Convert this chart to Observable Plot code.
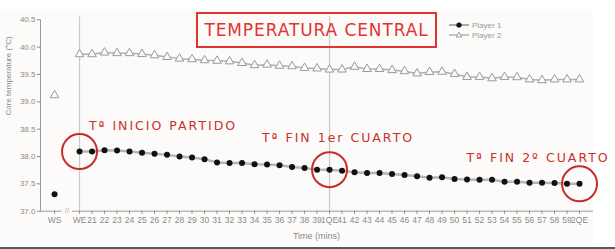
<!DOCTYPE html>
<html>
<head>
<meta charset="utf-8">
<script src="https://cdn.jsdelivr.net/npm/d3@7"></script>
<script src="https://cdn.jsdelivr.net/npm/@observablehq/plot@0.6"></script>
<style>
  html, body { margin: 0; padding: 0; background: #fff; }
  #wrap { position: relative; width: 615px; height: 249px; overflow: hidden; background: #fff; }
  #panel { position: absolute; left: 0; top: 10px; width: 593px; height: 233px; background: #fcfbf9; }
  #bottomline { position: absolute; left: 0; top: 247px; width: 615px; height: 2px; background: #5a5a5a; }
  #chart { position: absolute; left: 0; top: 0; }
  #title { position: absolute; left: 196px; top: 12px; width: 241px; height: 36px; box-sizing: border-box;
           border: 2.2px solid #e2342f; color: #e2342f; font-family: "DejaVu Sans", sans-serif; font-size: 17px;
           display: flex; align-items: center; justify-content: center; letter-spacing: 0.9px; }
  #legend { position: absolute; left: 449px; top: 20px; font-family: "Liberation Sans", Arial, sans-serif; font-size: 8px; color: #999; }
  #legend .row { display: flex; align-items: center; height: 10px; }
  #legend svg { margin-right: 3px; }
</style>
</head>
<body>
<div id="wrap">
  <div id="panel"></div>
  <div id="chart"></div>
  <div id="title">TEMPERATURA CENTRAL</div>
  <div id="legend"></div>
  <div id="bottomline"></div>
</div>
<script>
// ---- data ----
const categories = ["WS","WE","21","22","23","24","25","26","27","28","29","30","31","32","33","34","35","36","37","38","39","1QE",
  "41","42","43","44","45","46","47","48","49","50","51","52","53","54","55","56","57","58","59","2QE"];
const player1 = [37.31, 38.09, 38.09, 38.115, 38.11, 38.09, 38.07, 38.05, 38.03, 38.00, 37.98, 37.95, 37.89, 37.88, 37.88, 37.86, 37.855, 37.84, 37.81, 37.79, 37.76, 37.76,
  37.74, 37.71, 37.70, 37.70, 37.68, 37.66, 37.64, 37.61, 37.62, 37.59, 37.58, 37.575, 37.575, 37.54, 37.54, 37.52, 37.52, 37.515, 37.50, 37.50];
const player2 = [39.12, 39.87, 39.87, 39.90, 39.89, 39.89, 39.875, 39.85, 39.82, 39.79, 39.78, 39.76, 39.75, 39.74, 39.71, 39.67, 39.68, 39.66, 39.65, 39.62, 39.61, 39.59,
  39.59, 39.64, 39.60, 39.60, 39.58, 39.56, 39.52, 39.545, 39.55, 39.51, 39.455, 39.455, 39.43, 39.455, 39.45, 39.41, 39.395, 39.41, 39.41, 39.41];
const yTicks = [37.0, 37.5, 38.0, 38.5, 39.0, 39.5, 40.0, 40.5];
const seriesNames = ["Player 1", "Player 2"];
const markerLines = ["WE", "1QE"];
const highlighted = ["WE", "1QE", "2QE"];
const notes = [
  {text: "Tª INICIO PARTIDO", at: "26", temp: 38.55},
  {text: "Tª FIN 1er CUARTO", at: "1QE", temp: 38.33},
  {text: "Tª FIN 2º CUARTO", at: "56", temp: 37.965}
];
const xTitle = "Time (mins)";
const yTitle = "Core temperature (°C)";

// ---- build ----
const GAP = "·gap·";
const xDomain = [categories[0], GAP, ...categories.slice(1)];
const rows = categories.map((c, i) => ({time: c, p1: player1[i], p2: player2[i]}));
const linked = rows.slice(1);
const hl = rows.filter(d => highlighted.includes(d.time));

const chart = Plot.plot({
  width: 615,
  height: 249,
  marginLeft: 40,
  marginRight: 23,
  marginTop: 19.3,
  marginBottom: 38.3,
  style: {background: "transparent", fontFamily: "Liberation Sans, Arial, sans-serif"},
  x: {type: "point", domain: xDomain, padding: 1.08, align: 0.52, round: false},
  y: {domain: [37, 40.5]},
  marks: [
    Plot.ruleX(markerLines, {x: d => d, stroke: "#c9c9c9", strokeWidth: 1.2, insetTop: -3}),
    Plot.frame({anchor: "left", stroke: "#9a9a9a"}),
    Plot.frame({anchor: "bottom", stroke: "#9a9a9a"}),
    Plot.text([GAP], {x: d => d, y: () => 37, text: () => "//", fill: "#aaa", stroke: "#fcfbf9", strokeWidth: 7, fontSize: 8, dy: -1}),
    Plot.axisY({ticks: yTicks, tickFormat: d => d.toFixed(1), tickSize: 3, tickPadding: 2, fontSize: 8, color: "#8a8a8a", label: null}),
    Plot.axisX({ticks: categories, tickSize: 3, tickPadding: 3, fontSize: 8.5, color: "#8a8a8a", label: null}),
    Plot.text([xTitle], {frameAnchor: "bottom", dy: 27.5, fontSize: 9, fill: "#888"}),
    Plot.text([yTitle], {frameAnchor: "left", dx: -32, rotate: -90, fontSize: 8, fill: "#888"}),
    // Player 2
    Plot.line(linked, {x: "time", y: "p2", stroke: "#b0b0b0", strokeWidth: 1.5}),
    Plot.dot(rows, {x: "time", y: "p2", symbol: "triangle", r: 3.2, stroke: "#9a9a9a", fill: "#fcfbf9", strokeWidth: 1}),
    // Player 1
    Plot.line(linked, {x: "time", y: "p1", stroke: "#b5b5b5", strokeWidth: 2.5}),
    Plot.dot(rows, {x: "time", y: "p1", r: 3, fill: "#111", stroke: "none"}),
    // annotations
    Plot.dot(hl, {x: "time", y: "p1", r: 17.5, stroke: "#c72b2b", strokeWidth: 2, fill: "none"}),
    Plot.text(notes, {x: "at", y: "temp", text: "text", textAnchor: "middle", fill: "#c9302c",
      fontFamily: "DejaVu Sans, sans-serif", fontSize: 12.5, dx: 8.5})
  ]
});
document.getElementById("chart").appendChild(chart);
const noteTexts = new Set(notes.map(n => n.text));
chart.querySelectorAll("text").forEach(t => {
  if (noteTexts.has(t.textContent)) t.style.letterSpacing = "2px";
});

// legend
const lg = document.getElementById("legend");
seriesNames.forEach((name, i) => {
  const row = document.createElement("div");
  row.className = "row";
  const sym = i === 0
    ? '<circle cx="10" cy="5" r="2.6" fill="#111"/>'
    : '<path d="M10,2.2 L12.8,7 L7.2,7 Z" fill="#fff" stroke="#999" stroke-width="1"/>';
  row.innerHTML = '<svg width="20" height="10"><line x1="0" x2="20" y1="5" y2="5" stroke="#aaa" stroke-width="' + (i === 0 ? 2 : 1.3) + '"/>' + sym + '</svg><span>' + name + '</span>';
  lg.appendChild(row);
});
</script>
</body>
</html>
